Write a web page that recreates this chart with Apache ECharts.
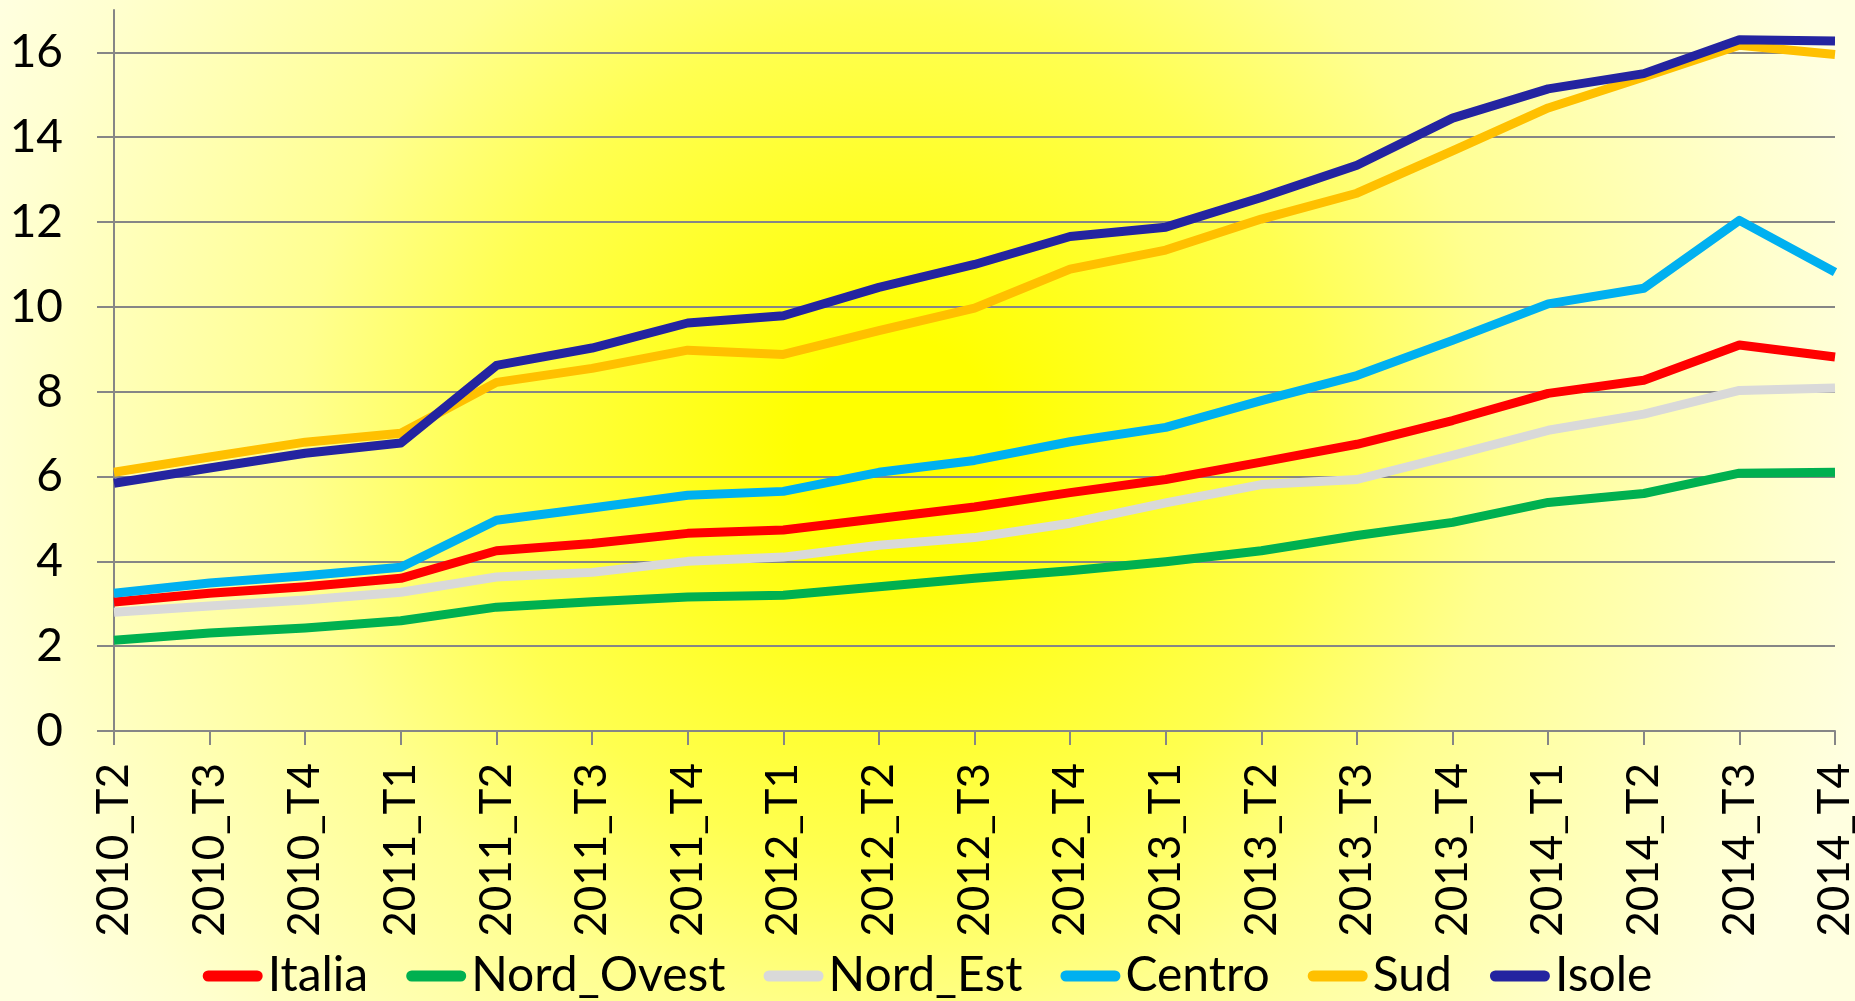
<!DOCTYPE html>
<html>
<head>
<meta charset="utf-8">
<title>Tasso per regione</title>
<script src="https://cdn.jsdelivr.net/npm/echarts@6.0.0/dist/echarts.min.js"></script>
<style>
  html, body { margin: 0; padding: 0; }
  #chart { width: 1855px; height: 1001px; }
</style>
</head>
<body>
<div id="chart"></div>
<script>
// trimestri
var categories = ['2010_T2', '2010_T3', '2010_T4', '2011_T1', '2011_T2', '2011_T3', '2011_T4',
  '2012_T1', '2012_T2', '2012_T3', '2012_T4', '2013_T1', '2013_T2', '2013_T3', '2013_T4',
  '2014_T1', '2014_T2', '2014_T3', '2014_T4']

var italia = [3.04, 3.25, 3.4, 3.6, 4.25, 4.42, 4.66, 4.74, 5.01, 5.28, 5.62, 5.93, 6.34, 6.76, 7.32, 7.96, 8.27, 9.1, 8.82]
var nordOvest = [2.14, 2.31, 2.43, 2.6, 2.92, 3.05, 3.16, 3.2, 3.4, 3.6, 3.78, 3.99, 4.25, 4.61, 4.92, 5.39, 5.6, 6.08, 6.1]
var nordEst = [2.8, 2.95, 3.09, 3.27, 3.63, 3.74, 4.0, 4.1, 4.38, 4.56, 4.9, 5.38, 5.81, 5.93, 6.5, 7.09, 7.47, 8.03, 8.09]
var centro = [3.25, 3.49, 3.66, 3.86, 4.97, 5.26, 5.56, 5.65, 6.1, 6.38, 6.82, 7.16, 7.79, 8.38, 9.21, 10.07, 10.44, 12.04, 10.82]
var sud = [6.1, 6.46, 6.81, 7.02, 8.22, 8.55, 8.98, 8.88, 9.44, 9.97, 10.89, 11.34, 12.07, 12.68, 13.68, 14.69, 15.42, 16.17, 15.95]
var isole = [5.84, 6.2, 6.55, 6.79, 8.62, 9.03, 9.62, 9.79, 10.46, 11.0, 11.66, 11.88, 12.58, 13.34, 14.45, 15.14, 15.5, 16.3, 16.27]

var seriesNames = ['Italia', 'Nord_Ovest', 'Nord_Est', 'Centro', 'Sud', 'Isole']
var seriesData = [italia, nordOvest, nordEst, centro, sud, isole]
var seriesColors = ['#ff0000', '#00b050', '#d9d9d9', '#00b0f0', '#ffc000', '#2424a0']

var fontFamily = 'Lato, "Open Sans", sans-serif'
var gray = '#868686'

var chart = echarts.init(document.getElementById('chart'))

var option = {
  animation: false,
  backgroundColor: {
    type: 'radial',
    x: 0.485,
    y: 0.44,
    r: 1.0,
    colorStops: [
      { offset: 0, color: '#ffff00' },
      { offset: 0.1, color: '#ffff00' },
      { offset: 0.42, color: '#ffff50' },
      { offset: 0.6, color: '#ffff90' },
      { offset: 0.9, color: '#ffffd0' },
      { offset: 1, color: '#ffffe0' }
    ]
  },
  textStyle: {
    fontFamily: fontFamily
  },
  grid: {
    left: 114,
    right: 20,
    top: 10,
    bottom: 270,
    containLabel: false,
    outerBoundsMode: 'none'
  },
  legend: {
    top: 952,
    left: 'center',
    padding: 0,
    itemGap: 38,
    itemWidth: 60,
    itemHeight: 11,
    icon: 'path://M5.5,0H54.5A5.5,5.5,0,0,1,54.5,11H5.5A5.5,5.5,0,0,1,5.5,0Z',
    textStyle: {
      fontSize: 48,
      color: '#000',
      fontFamily: fontFamily
    },
    data: seriesNames
  },
  xAxis: {
    type: 'category',
    boundaryGap: false,
    data: categories,
    axisLine: {
      lineStyle: { color: gray, width: 2 }
    },
    axisTick: {
      show: true,
      length: 14,
      lineStyle: { color: gray, width: 2 }
    },
    axisLabel: {
      interval: 0,
      rotate: 90,
      margin: 32,
      fontSize: 44,
      color: '#000',
      fontFamily: fontFamily
    },
    splitLine: { show: false }
  },
  yAxis: {
    type: 'value',
    min: 0,
    max: 17,
    interval: 2,
    axisLine: {
      show: true,
      lineStyle: { color: gray, width: 2 }
    },
    axisTick: {
      show: true,
      length: 17,
      lineStyle: { color: gray, width: 2 }
    },
    axisLabel: {
      margin: 51,
      fontSize: 46,
      color: '#000',
      fontFamily: fontFamily,
      showMaxLabel: false
    },
    splitLine: {
      show: true,
      showMaxLine: false,
      lineStyle: { color: gray, width: 2 }
    }
  },
  series: seriesNames.map(function (name, i) {
    return {
      name: name,
      type: 'line',
      data: seriesData[i],
      showSymbol: false,
      symbol: 'none',
      color: seriesColors[i],
      lineStyle: {
        color: seriesColors[i],
        width: 9,
        join: 'round'
      },
      emphasis: { disabled: true }
    }
  })
}

chart.setOption(option)
</script>
</body>
</html>
